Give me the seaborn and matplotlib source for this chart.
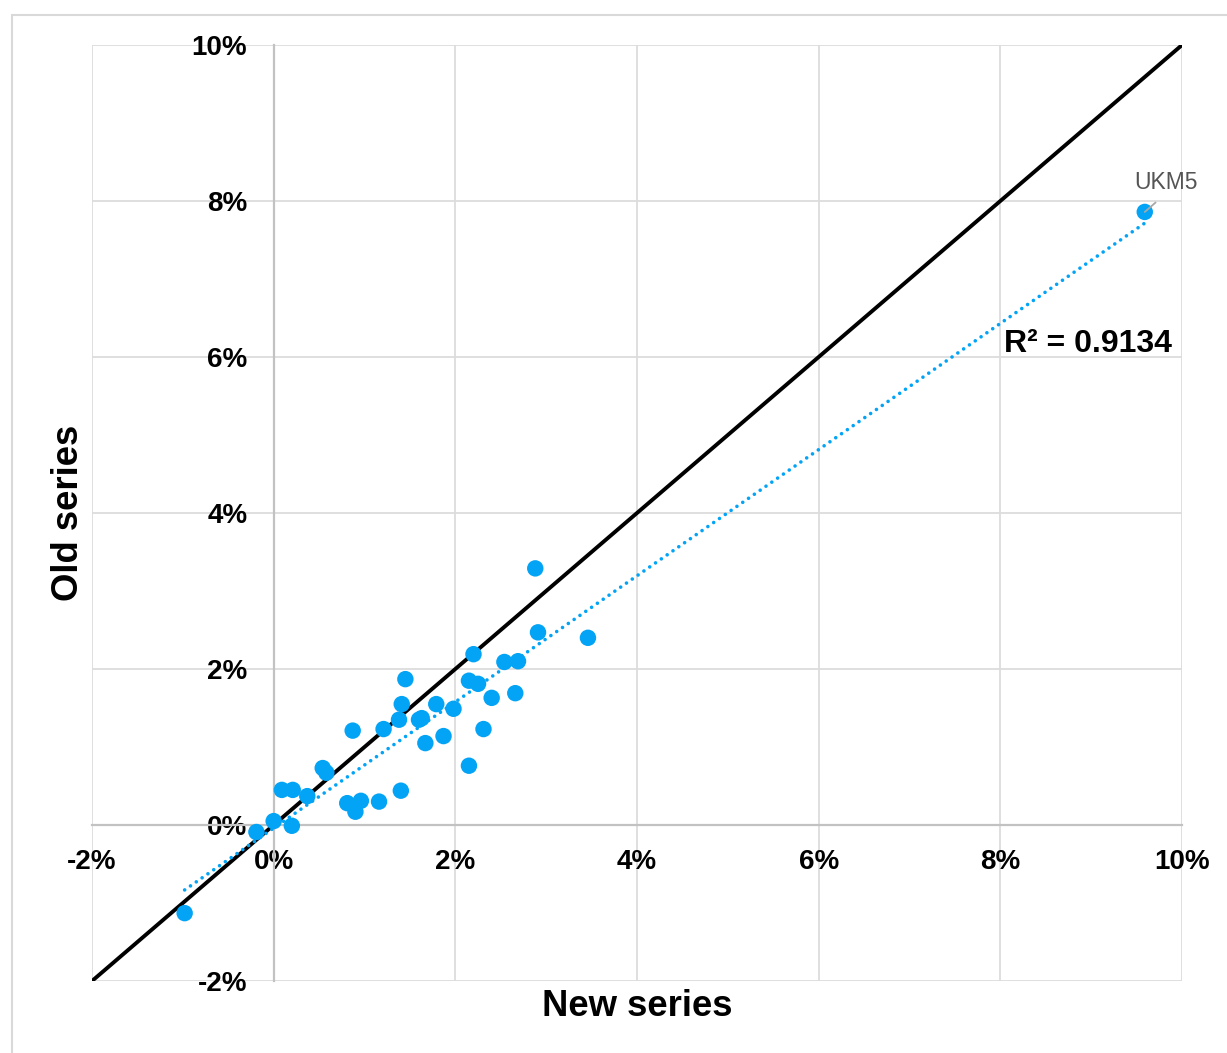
import numpy as np
import pandas as pd
import matplotlib
matplotlib.use("Agg")
import matplotlib.pyplot as plt
from matplotlib.ticker import FuncFormatter, MultipleLocator
from matplotlib.lines import Line2D
import seaborn as sns

# ---- data (percent) ----
new_series = [-0.98, -0.19, 0.00, 0.20, 0.09, 0.21, 0.37, 0.54, 0.58, 0.81,
              0.90, 0.96, 0.87, 1.16, 1.21, 1.40, 1.38, 1.41, 1.45, 1.60,
              1.63, 1.67, 1.79, 1.87, 1.98, 2.15, 2.15, 2.20, 2.25, 2.31,
              2.40, 2.54, 2.66, 2.69, 2.88, 2.91, 3.46, 9.59]
old_series = [-1.13, -0.09, 0.05, -0.01, 0.45, 0.45, 0.37, 0.73, 0.67, 0.28,
              0.17, 0.31, 1.21, 0.30, 1.23, 0.44, 1.35, 1.55, 1.87, 1.35,
              1.37, 1.05, 1.55, 1.14, 1.49, 0.76, 1.85, 2.19, 1.81, 1.23,
              1.63, 2.09, 1.69, 2.10, 3.29, 2.47, 2.40, 7.86]
label_name = "UKM5"
r2_text = "R² = 0.9134"
x_label = "New series"
y_label = "Old series"

df = pd.DataFrame({"new": new_series, "old": old_series})

sns.set_theme(style="white")
plt.rcParams["font.family"] = ["Liberation Sans", "DejaVu Sans"]

W, H = 1227, 1053
fig = plt.figure(figsize=(W / 100, H / 100), dpi=100)
L, R, T, B = 92, 1182, 45, 981
ax = fig.add_axes([L / W, 1 - B / H, (R - L) / W, (B - T) / H])

BLUE = "#03A3F5"

ax.set_xlim(-2, 10)
ax.set_ylim(-2, 10)
ax.xaxis.set_major_locator(MultipleLocator(2))
ax.yaxis.set_major_locator(MultipleLocator(2))
fmt = FuncFormatter(lambda v, p: f"{int(round(v))}%")
ax.xaxis.set_major_formatter(fmt)
ax.yaxis.set_major_formatter(fmt)

ax.grid(True, color="#dcdcdc", linewidth=1.3, zorder=0)
ax.set_axisbelow(True)

for s in ["top", "right"]:
    ax.spines[s].set_visible(False)
ax.spines["left"].set_position(("data", 0))
ax.spines["bottom"].set_position(("data", 0))
for s in ["left", "bottom"]:
    ax.spines[s].set_color("#c2c2c2")
    ax.spines[s].set_linewidth(1.6)
    ax.spines[s].set_zorder(1)

ax.tick_params(axis="both", length=0, labelsize=20, labelcolor="black")
ax.tick_params(axis="y", pad=19)
ax.tick_params(axis="x", pad=17)
for lab in ax.get_xticklabels() + ax.get_yticklabels():
    lab.set_fontweight("bold")

# y = x reference
ax.axline((0, 0), slope=1, color="black", linewidth=2.8, zorder=2)

# trend line
sns.regplot(data=df, x="new", y="old", scatter=False, ci=None, ax=ax,
            line_kws=dict(color=BLUE, linewidth=2.6, linestyle=(0, (0.01, 1.95)),
                          dash_capstyle="round", zorder=3))

sns.scatterplot(data=df, x="new", y="old", ax=ax, color=BLUE, s=140,
                edgecolor="none", linewidth=0, zorder=4)

ax.set_xlabel("")
ax.set_ylabel("")
fig.text(0.5 * (L + R) / W, 1 - 1007 / H, x_label, ha="center", va="center",
         fontsize=26.3, fontweight="bold", color="black")
fig.text(68 / W, 1 - 0.5 * (T + B) / H, y_label, ha="center", va="center",
         rotation=90, fontsize=26.3, fontweight="bold", color="black")

# annotation for outlier
ax.annotate(label_name, xy=(new_series[-1], old_series[-1]), xytext=(9.82, 8.24),
            ha="center", va="center", fontsize=16.5, color="#555555",
            arrowprops=dict(arrowstyle="-", color="#a8a8a8", lw=1.3,
                            relpos=(0.5, 0.0), shrinkA=6, shrinkB=0), zorder=5)

ax.text(9.89, 6.17, r2_text, ha="right", va="center", fontsize=23,
        fontweight="bold", color="black")

# outer light border
fig.add_artist(Line2D([12 / W, 12 / W], [0, 1 - 15 / H], transform=fig.transFigure,
                      color="#d9d9d9", linewidth=1.5))
fig.add_artist(Line2D([12 / W, 1.0], [1 - 15 / H, 1 - 15 / H], transform=fig.transFigure,
                      color="#d9d9d9", linewidth=1.5))

fig.savefig("out.png", dpi=100)
